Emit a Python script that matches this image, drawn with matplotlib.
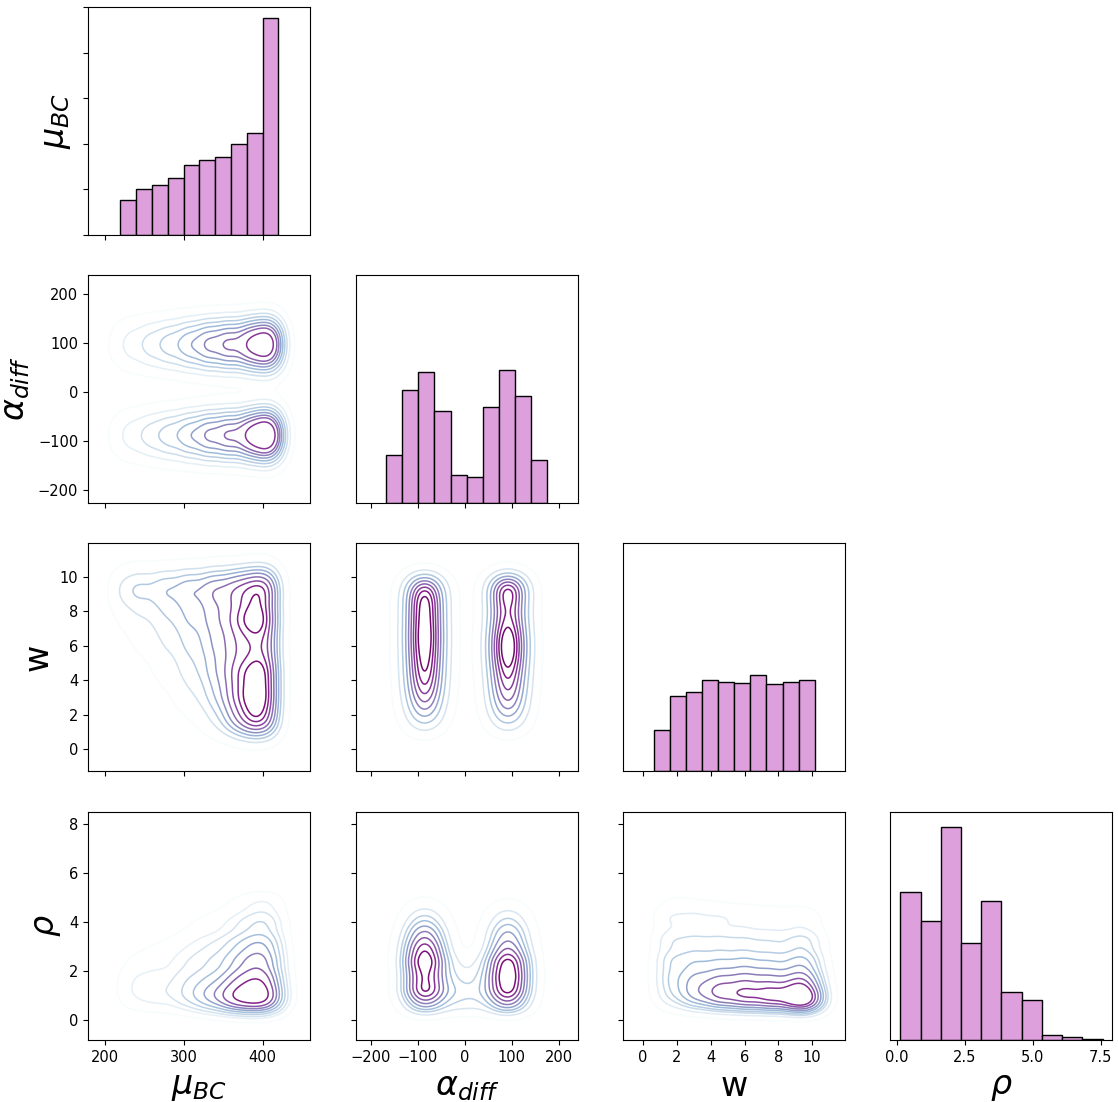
import numpy as np
import matplotlib.pyplot as plt

# diagonal histograms (bin edges, bin heights)
mu_edges = np.linspace(219.5, 420.0, 11)
mu_counts = [35, 46, 50, 57, 70, 75, 78, 91, 102, 217]
alpha_edges = np.linspace(-166.7, 175.2, 11)
alpha_counts = [48, 113, 131, 92, 28, 26, 96, 133, 107, 43]
w_edges = np.linspace(0.62, 10.15, 11)
w_counts = [41, 75, 79, 91, 89, 88, 96, 87, 89, 91]
rho_edges = np.linspace(0.126, 7.57, 11)
rho_counts = [148, 119, 213, 97, 139, 48, 40, 5, 2.7, 0.5]

# kde panels: coarse density tables (rows = y centres, cols = x centres)
muA_x = [212, 232, 256, 280, 305, 330, 355, 380, 400, 415]
alphaA_y = [-108, -68, 76, 118]
dens_mu_alpha = [
    [0.12, 0.26, 0.38, 0.50, 0.65, 0.82, 0.92, 0.97, 1.00, 0.90],
    [0.12, 0.26, 0.38, 0.50, 0.65, 0.82, 0.92, 0.97, 1.00, 0.90],
    [0.12, 0.26, 0.38, 0.50, 0.66, 0.84, 0.95, 0.98, 0.95, 0.85],
    [0.12, 0.26, 0.38, 0.50, 0.66, 0.84, 0.95, 0.98, 0.95, 0.85],
]

muB_x = [220, 245, 275, 305, 335, 362, 386, 408]
wB_y = [1.5, 3.0, 4.5, 6.0, 7.5, 9.0, 10.0]
dens_mu_w = [
    [0.00, 0.00, 0.02, 0.10, 0.30, 0.65, 0.95, 0.85],
    [0.00, 0.02, 0.10, 0.30, 0.50, 0.80, 1.00, 0.95],
    [0.00, 0.08, 0.22, 0.42, 0.60, 0.82, 0.95, 0.95],
    [0.04, 0.18, 0.35, 0.50, 0.65, 0.75, 0.72, 0.80],
    [0.15, 0.30, 0.45, 0.60, 0.72, 0.82, 1.05, 0.90],
    [0.35, 0.45, 0.55, 0.65, 0.72, 0.72, 0.75, 0.78],
    [0.20, 0.30, 0.35, 0.40, 0.45, 0.45, 0.50, 0.55],
]

alphaC_x = [-85, 92]
wC_y = [1.5, 2.5, 3.5, 4.5, 5.5, 6.5, 7.5, 8.5, 9.5]
dens_alpha_w = [
    [0.45, 0.45], [0.75, 0.75], [0.95, 0.90], [1.05, 1.00], [1.10, 1.15],
    [1.15, 1.15], [1.10, 0.95], [1.10, 0.95], [1.05, 1.20],
]

muD_x = [235, 265, 300, 330, 360, 385, 408]
rhoD_y = [0.7, 1.2, 1.8, 2.5, 3.2, 4.0, 4.8]
dens_mu_rho = [
    [0.15, 0.22, 0.32, 0.60, 0.95, 1.00, 1.00],
    [0.24, 0.30, 0.42, 0.65, 0.92, 1.00, 1.00],
    [0.24, 0.28, 0.40, 0.52, 0.75, 0.95, 0.95],
    [0.12, 0.20, 0.33, 0.45, 0.62, 0.80, 0.85],
    [0.04, 0.10, 0.20, 0.32, 0.45, 0.62, 0.70],
    [0.00, 0.03, 0.08, 0.16, 0.26, 0.40, 0.52],
    [0.00, 0.00, 0.02, 0.05, 0.10, 0.20, 0.30],
]

alphaE_x = [-85, 0, 92]
rhoE_y = [0.6, 1.2, 1.8, 2.4, 3.0, 3.6, 4.2, 4.8]
dens_alpha_rho = [
    [0.55, 0.25, 0.60], [0.95, 0.30, 0.95], [0.85, 0.20, 1.00], [1.00, 0.10, 0.95],
    [0.85, 0.0, 0.65], [0.62, 0.0, 0.52], [0.35, 0.0, 0.32], [0.14, 0.0, 0.12],
]

wF_x = [1.5, 3.0, 4.5, 6.0, 7.5, 9.0, 10.0]
rhoF_y = [0.7, 1.2, 1.8, 2.5, 3.3, 4.2, 5.0]
dens_w_rho = [
    [0.25, 0.50, 0.70, 0.85, 0.95, 1.05, 0.85],
    [0.40, 0.70, 0.95, 0.95, 0.95, 0.90, 0.70],
    [0.50, 0.70, 0.78, 0.85, 0.80, 0.72, 0.58],
    [0.55, 0.62, 0.62, 0.65, 0.60, 0.55, 0.48],
    [0.48, 0.50, 0.50, 0.48, 0.45, 0.42, 0.38],
    [0.38, 0.38, 0.35, 0.32, 0.28, 0.25, 0.20],
    [0.15, 0.13, 0.10, 0.08, 0.06, 0.04, 0.03],
]

labels = [r'$\mu_{BC}$', r'$\alpha_{diff}$', 'w', r'$\rho$']
xlims = [(178.4, 460), (-231, 241), (-1.19, 11.94), (-0.26, 7.92)]
ylims = [(0, 1), (-226, 239), (-1.27, 11.97), (-0.8, 8.5)]
xticks = [[200, 300, 400], [-200, -100, 0, 100, 200], [0, 2, 4, 6, 8, 10], [0, 2.5, 5, 7.5]]
yticks = [None, [-200, -100, 0, 100, 200], [0, 2, 4, 6, 8, 10], [0, 2, 4, 6, 8]]

hists = [(mu_edges, mu_counts), (alpha_edges, alpha_counts),
         (w_edges, w_counts), (rho_edges, rho_counts)]
# (x centres, y centres, table, kernel sd x, kernel sd y)
kdes = {(1, 0): (muA_x, alphaA_y, dens_mu_alpha, 13, 32),
        (2, 0): (muB_x, wB_y, dens_mu_w, 15, 0.85),
        (2, 1): (alphaC_x, wC_y, dens_alpha_w, 34, 0.7),
        (3, 0): (muD_x, rhoD_y, dens_mu_rho, 17, 0.38),
        (3, 1): (alphaE_x, rhoE_y, dens_alpha_rho, 36, 0.35),
        (3, 2): (wF_x, rhoF_y, dens_w_rho, 0.8, 0.38)}

W, H = 1118, 1102
col_x = [88, 356, 623, 890]
row_y = [7, 275, 543, 812]
aw, ah = 222, 228


def density(spec, X, Y):
    xc, yc, table, sx, sy = spec
    Z = np.zeros_like(X)
    for cy, row in zip(yc, table):
        for cx, wt in zip(xc, row):
            Z += wt * np.exp(-0.5 * (((X - cx) / sx) ** 2 + ((Y - cy) / sy) ** 2))
    return Z


def mass_levels(Z, n=10, thresh=0.05):
    z = np.sort(Z.ravel())
    c = np.cumsum(z)
    c /= c[-1]
    return np.interp(np.linspace(thresh, 1, n), c, z)


fig = plt.figure(figsize=(W / 100, H / 100), dpi=100)
hmax = max(max(c) for _, c in hists) * 1.05

for i in range(4):
    for j in range(i + 1):
        ax = fig.add_axes([col_x[j] / W, 1 - (row_y[i] + ah) / H, aw / W, ah / H])
        ax.tick_params(labelsize=10.5)
        ax.set_xlim(xlims[j])
        ax.set_xticks(xticks[j])
        if i == j:
            edges, counts = hists[i]
            ax.bar(edges[:-1], counts, width=np.diff(edges), align='edge',
                   color='plum', edgecolor='black', linewidth=1)
            ax.set_ylim(0, hmax)
            if i == 0:
                ax.set_yticks(np.linspace(0, hmax, 6))
                ax.set_yticklabels([])
                ax.set_ylabel(labels[0], fontsize=24)
            else:
                ax.set_yticks([])
        else:
            xl, yl = xlims[j], ylims[i]
            X, Y = np.meshgrid(np.linspace(xl[0], xl[1], 300), np.linspace(yl[0], yl[1], 300))
            Z = density(kdes[(i, j)], X, Y)
            ax.contour(X, Y, Z, levels=mass_levels(Z), cmap='BuPu', linewidths=1.1)
            ax.set_ylim(yl)
            ax.set_yticks(yticks[i])
            if j == 0:
                ax.set_ylabel(labels[i], fontsize=24)
            else:
                ax.set_yticklabels([])
        if i == 3:
            ax.set_xlabel(labels[j], fontsize=24)
        else:
            ax.set_xticklabels([])

fig.savefig('out.png', dpi=100)
